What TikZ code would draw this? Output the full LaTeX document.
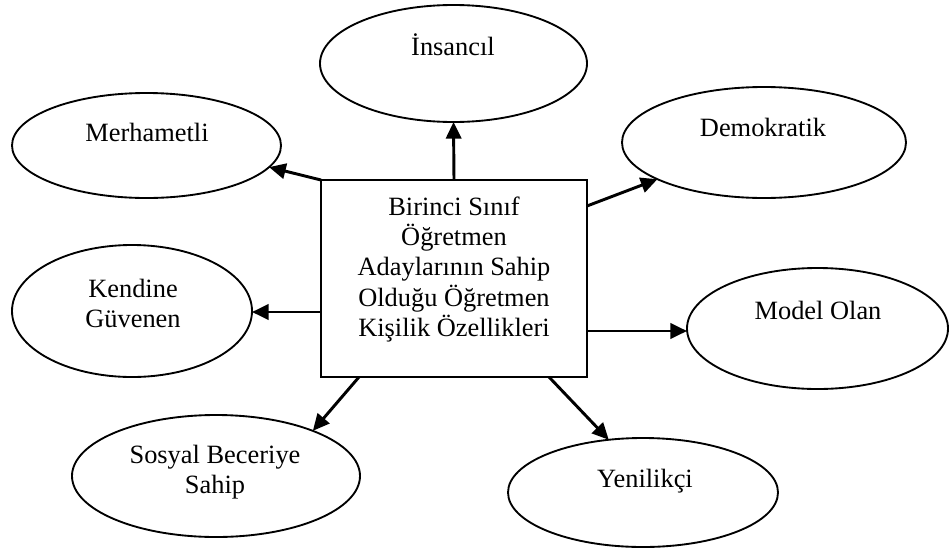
\documentclass[tikz,border=0pt]{standalone}
\usepackage{fontspec}
\setmainfont{Liberation Serif}
\usetikzlibrary{shapes.geometric,arrows.meta,calc}
\begin{document}
\begin{tikzpicture}[x=0.75pt,y=-0.75pt,
  ell/.style 2 args={ellipse,draw,line width=1.4pt,inner sep=0pt,outer sep=0pt,
    minimum width=1.5*#1pt,minimum height=1.5*#2pt},
  centerbox/.style={rectangle,draw,line width=1.8pt,inner sep=0pt,outer sep=0pt,
    minimum width=199.5pt,minimum height=147.75pt},
  lbl/.style={anchor=base,inner sep=0pt,font=\fontsize{19.8}{22.8}\selectfont},
  arr/.style={line width=2.2pt,-{Triangle[length=12.5pt,width=11.5pt]}}]
\useasboundingbox (0,0) rectangle (949,550);

% ellipses
\node[ell={134.5}{52.5}] (merh) at (146.5,145.5) {};
\node[ell={133.5}{58.5}] (ins) at (453.5,63.5) {};
\node[ell={142}{55.5}] (demo) at (764,142.5) {};
\node[ell={120}{66}] (kend) at (132,311) {};
\node[ell={130.5}{60.5}] (model) at (817.5,328.5) {};
\node[ell={144}{61}] (sos) at (216,476) {};
\node[ell={135}{54.5}] (yen) at (643,492.5) {};

% central box
\node[centerbox] (box) at (454,278.5) {};

% labels
\node[lbl] (merh-t) at (147,141) {Merhametli};
\node[lbl] (ins-t) at (453,55) {İnsancıl};
\node[lbl] (demo-t) at (763,136) {Demokratik};
\node[lbl] (kend-t) at (133,297) {\begin{tabular}[t]{@{}c@{}}Kendine\\Güvenen\end{tabular}};
\node[lbl] (model-t) at (818,319) {Model Olan};
\node[lbl] (sos-t) at (215,463) {\begin{tabular}[t]{@{}c@{}}Sosyal Beceriye\\Sahip\end{tabular}};
\node[lbl] (yen-t) at (645,487) {Yenilikçi};
\node[lbl] (box-t) at (454,215) {\begin{tabular}[t]{@{}c@{}}Birinci Sınıf\\Öğretmen\\Adaylarının Sahip\\Olduğu Öğretmen\\Kişilik Özellikleri\end{tabular}};

% start points on the box
\coordinate (s3) at ($(box.north east)+(0,26)$);
\coordinate (s4) at ($(box.north west)+(0,132)$);
\coordinate (s5) at ($(box.north east)+(0,151)$);
\coordinate (s6) at ($(box.south west)+(38,0)$);
\coordinate (s7) at ($(box.south east)+(-38,0)$);

% arrows
\draw[arr] (box.north) -- (ins.south);
\draw[arr] (box.north west) -- (merh.-10);
\draw[arr] (s3) -- (demo.-161.2);
\draw[arr] (s4) -- (s4 -| kend.east);
\draw[arr] (s5) -- (s5 -| model.west);
\draw[arr] (s6) -- (sos.25.6);
\draw[arr] (s7) -- (yen.123);
\end{tikzpicture}
\end{document}
